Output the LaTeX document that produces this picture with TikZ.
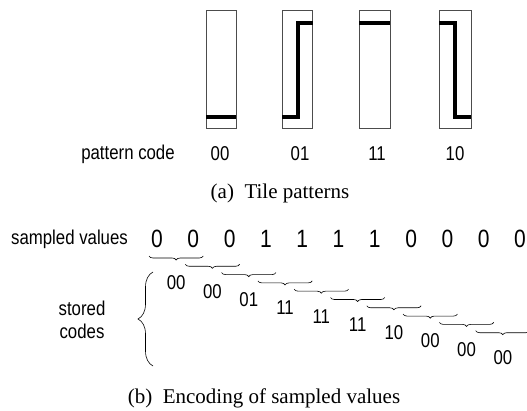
\documentclass[tikz,border=0pt]{standalone}
\usepackage{fontspec}
\setmainfont{Liberation Serif}
\newfontfamily\narrowsans[FakeStretch=0.84]{Liberation Sans}
\usetikzlibrary{decorations.pathreplacing}
\begin{document}
\begin{tikzpicture}[x=1pt,y=-1pt,
  tilebox/.style={draw=black!70, line width=0.6pt},
  sig/.style={line width=3.4pt, line join=miter},
  lbl/.style={font=\narrowsans\fontsize{20}{23}\selectfont, inner sep=0pt},
  dig/.style={font=\narrowsans\fontsize{25}{27}\selectfont, inner sep=0pt},
  captext/.style={font=\fontsize{21}{24}\selectfont, inner sep=0pt},
  smallbrace/.style={decorate, decoration={brace, mirror, amplitude=4pt}, line width=0.6pt},
  bigbrace/.style={decorate, decoration={brace, amplitude=15pt}, line width=0.6pt},
]
\useasboundingbox (0,0) rectangle (527,411);
% tiles
\draw[tilebox] (206,10) rectangle (236,128);
\draw[tilebox] (282,10) rectangle (312,128);
\draw[tilebox] (359,10) rectangle (390,128);
\draw[tilebox] (439,10) rectangle (471,128);
\draw[sig] (206,117) -- (236,117);
\draw[sig] (282,117) -- (298,117) -- (298,23) -- (313,23);
\draw[sig] (359,23) -- (390,23);
\draw[sig] (439,23) -- (455,23) -- (455,117) -- (471,117);
% pattern codes
\node[lbl] (pc) at (128,154) {pattern code};
\node[lbl] (p0) at (220,154) {00};
\node[lbl] (p1) at (300,154) {01};
\node[lbl] (p2) at (377,154) {11};
\node[lbl] (p3) at (455,154) {10};
\node[captext] (capa) at (280,193) {(a)\ \ Tile patterns};
% sampled values
\node[lbl] (sv) at (69.5,239) {sampled values};
\foreach \v [count=\i from 0] in {0,0,0,1,1,1,1,0,0,0,0}
  \node[dig] (s\i) at (157+36.3*\i,239) {\v};
\foreach \c [count=\i from 0] in {00,00,01,11,11,11,10,00,00,00} {
  \pgfmathsetmacro\xl{157+36.3*\i-8}
  \pgfmathsetmacro\xr{157+36.3*(\i+1)+10}
  \pgfmathsetmacro\yb{256+8.3*\i}
  \draw[smallbrace] (\xl,\yb) -- (\xr,\yb);
  \node[lbl] (c\i) at ({(\xl+\xr)/2},\yb+27) {\c};
}
\node[lbl, align=center] (sc) at (82,319.5) {stored\\codes};
\coordinate (bt) at (153,272);
\coordinate (bb) at (153,366);
\draw[bigbrace] (bb) -- (bt);
\node[captext] (capb) at (264,398) {(b)\ \ Encoding of sampled values};
\end{tikzpicture}
\end{document}
